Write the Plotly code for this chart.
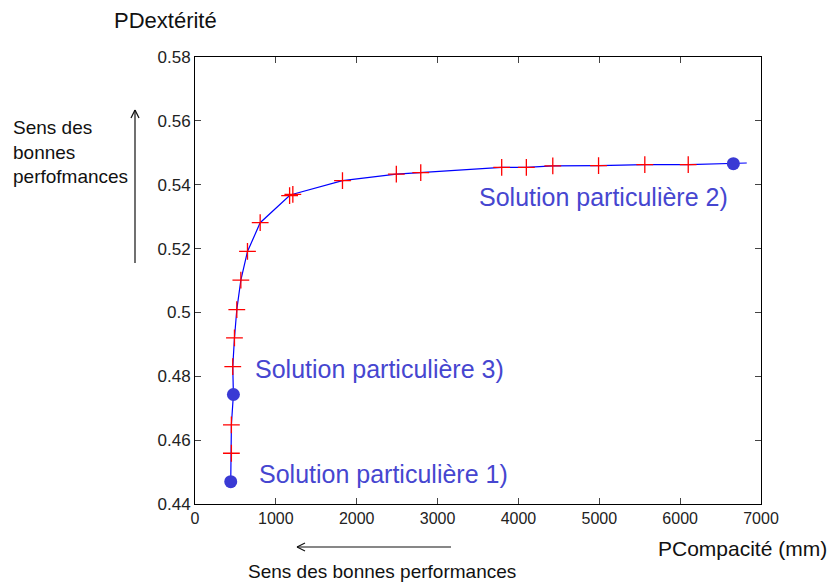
import plotly.graph_objects as go

# ---- data ----
front_x = [442, 450, 450, 475, 467, 488, 517, 567, 649, 806, 1170, 1210, 1824, 2490, 2792,
           3793, 4098, 4425, 4991, 5563, 6100, 6658, 6824]
front_y = [0.4470, 0.4559, 0.4648, 0.4743, 0.4830, 0.4920, 0.5009, 0.5101, 0.5191, 0.5281,
           0.5366, 0.5370, 0.5413, 0.5433, 0.5438, 0.5454, 0.5454, 0.5459, 0.5460, 0.5463,
           0.5463, 0.5466, 0.5468]

plus_x = [450, 450, 467, 488, 517, 567, 649, 806, 1170, 1210, 1824, 2490, 2792,
          3793, 4098, 4425, 4991, 5563, 6100]
plus_y = [0.4559, 0.4648, 0.4830, 0.4920, 0.5009, 0.5101, 0.5191, 0.5281, 0.5366, 0.5370,
          0.5413, 0.5433, 0.5438, 0.5454, 0.5454, 0.5459, 0.5460, 0.5463, 0.5463]

sol_x = [442, 475, 6658]
sol_y = [0.4470, 0.4743, 0.5466]
sol_labels = ["Solution particulière 1)", "Solution particulière 3)", "Solution particulière 2)"]
sol_label_x = [767, 717, 3487]
sol_label_y = [0.4494, 0.4822, 0.5361]

x_ticks = [0, 1000, 2000, 3000, 4000, 5000, 6000, 7000]
y_ticks = [0.44, 0.46, 0.48, 0.50, 0.52, 0.54, 0.56, 0.58]

# ---- layout geometry (page has an 8px body margin) ----
OFF = 8
W, H = 840 - OFF, 585 - OFF
L, T = 195 - OFF, 57 - OFF
pw, ph = 566, 447
R, B = W - L - pw, H - T - ph

def px(x):
    return (x - OFF - L) / pw

def py(y):
    return (T + ph - (y - OFF)) / ph

FONT = "Liberation Sans, Arial, sans-serif"
TXT_BLUE = "#4646d0"

fig = go.Figure()
fig.add_trace(go.Scatter(x=front_x, y=front_y, mode="lines",
                         line=dict(color="#0000ff", width=1.2), hoverinfo="skip"))
fig.add_trace(go.Scatter(x=plus_x, y=plus_y, mode="markers",
                         marker=dict(symbol="cross-thin", size=12,
                                     line=dict(color="#ff0000", width=1.3), color="#ff0000")))
fig.add_trace(go.Scatter(x=sol_x, y=sol_y, mode="markers",
                         marker=dict(symbol="circle", size=13, color="#3a3ad4")))

for lx, ly, t in zip(sol_label_x, sol_label_y, sol_labels):
    fig.add_annotation(x=lx, y=ly, xref="x", yref="y", text=t, showarrow=False,
                       xanchor="left", yanchor="middle",
                       font=dict(family=FONT, size=25, color=TXT_BLUE))

# titles / side texts
fig.add_annotation(x=px(165), y=py(20), xref="paper", yref="paper", text="PDextérité",
                   showarrow=False, xanchor="center", yanchor="middle",
                   font=dict(family=FONT, size=22, color="#111111"))
fig.add_annotation(x=px(656), y=py(548), xref="paper", yref="paper", text="PCompacité (mm)",
                   showarrow=False, xanchor="left", yanchor="middle",
                   font=dict(family=FONT, size=21, color="#111111"))
fig.add_annotation(x=px(382), y=py(571), xref="paper", yref="paper",
                   text="Sens des bonnes performances",
                   showarrow=False, xanchor="center", yanchor="middle",
                   font=dict(family=FONT, size=19, color="#111111"))
fig.add_annotation(x=px(11), y=py(115), xref="paper", yref="paper",
                   text="Sens des<br>bonnes<br>perfofmances", align="left",
                   showarrow=False, xanchor="left", yanchor="top",
                   font=dict(family=FONT, size=19, color="#111111"))

# arrows drawn as lines
arrow = dict(color="#111111", width=1.2)
shapes = [
    # vertical arrow
    ((135, 263), (135, 110)), ((135, 110), (131, 118)), ((135, 110), (139, 118)),
    # horizontal arrow
    ((451, 547), (297, 547)), ((297, 547), (305, 543)), ((297, 547), (305, 551)),
]
for (x0, y0), (x1, y1) in shapes:
    fig.add_shape(type="line", xref="paper", yref="paper",
                  x0=px(x0), y0=py(y0), x1=px(x1), y1=py(y1), line=arrow)

fig.update_layout(
    width=W, height=H,
    margin=dict(l=L, r=R, t=T, b=B),
    paper_bgcolor="white", plot_bgcolor="white",
    showlegend=False,
    font=dict(family=FONT, color="#222222"),
    xaxis=dict(range=[0, 7000], tickvals=x_ticks, ticks="inside", ticklen=6,
               showline=True, linecolor="black", linewidth=1, mirror="ticks",
               showgrid=False, zeroline=False, tickfont=dict(size=16, color="#222222")),
    yaxis=dict(range=[0.44, 0.58], tickvals=y_ticks, ticks="inside", ticklen=6,
               showline=True, linecolor="black", linewidth=1, mirror="ticks",
               showgrid=False, zeroline=False, tickfont=dict(size=17, color="#222222"),
               tickformat="~g"),
)

fig.write_html("out.html")
